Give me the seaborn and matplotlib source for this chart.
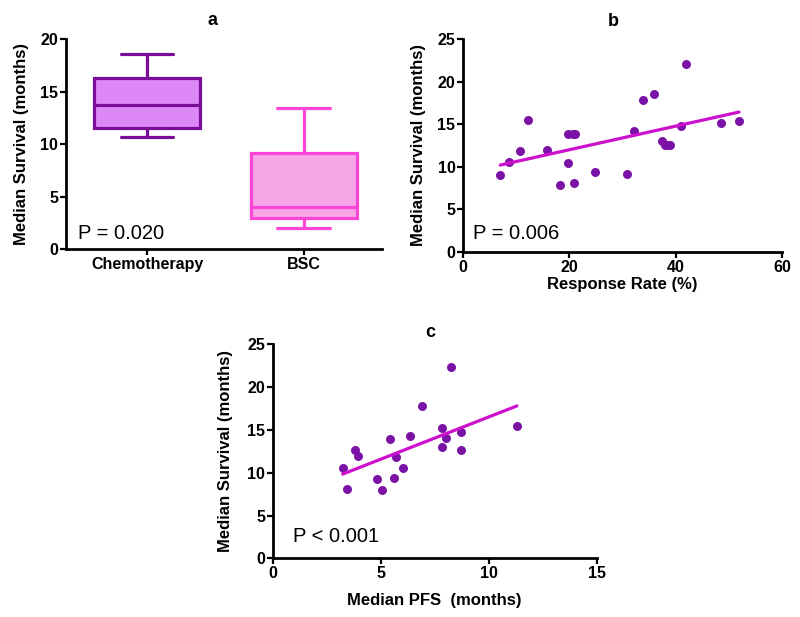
import matplotlib
matplotlib.use("Agg")
import matplotlib.pyplot as plt
import seaborn as sns
import pandas as pd
import numpy as np

# ---- Data ----
# Panel a: five-number summaries (min, Q1, median, Q3, max) read from the boxes
groups = ["Chemotherapy", "BSC"]
chemo_vals = [10.7, 11.5, 13.7, 16.3, 18.6]
bsc_vals = [2.0, 3.0, 4.0, 9.1, 13.4]

# Panel b: response rate (%) vs median survival (months)
rr_x = [7.0, 8.7, 10.8, 12.2, 15.7, 18.2, 19.8, 19.8, 20.6, 21.0, 20.8, 24.8,
        30.8, 32.1, 33.9, 35.9, 37.4, 37.9, 38.4, 39.0, 40.9, 41.9, 48.5, 51.9]
rr_y = [9.0, 10.6, 11.8, 15.5, 12.0, 7.9, 13.8, 10.4, 13.9, 13.9, 8.1, 9.35,
        9.2, 14.2, 17.8, 18.5, 13.0, 12.6, 12.6, 12.6, 14.75, 22.1, 15.1, 15.4]

# Panel c: median PFS (months) vs median survival (months)
pfs_x = [3.24, 3.44, 3.82, 3.93, 4.83, 5.05, 5.43, 5.63, 5.72, 6.03, 6.34,
         6.93, 7.82, 7.82, 8.04, 8.24, 8.72, 8.72, 11.31]
pfs_y = [10.5, 8.1, 12.6, 12.0, 9.3, 8.0, 13.9, 9.4, 11.8, 10.6, 14.25,
         17.8, 15.2, 13.0, 14.0, 22.3, 14.8, 12.7, 15.5]

p_texts = ["P = 0.020", "P = 0.006", "P < 0.001"]
titles = ["a", "b", "c"]

# ---- Style ----
sns.set_theme(style="white")
plt.rcParams["font.family"] = ["Liberation Sans", "DejaVu Sans"]
plt.rcParams["text.color"] = "black"
plt.rcParams["axes.labelcolor"] = "black"
plt.rcParams["xtick.color"] = "black"
plt.rcParams["ytick.color"] = "black"

DOT = "#7B12A6"
LINE = "#CC10CC"
CHEMO_EDGE = "#7A0D97"
CHEMO_FILL = "#DC88F6"
BSC_EDGE = "#FF45D8"
BSC_FILL = "#F6A6E6"

fig = plt.figure(figsize=(8.0, 6.17), dpi=100)
ax_a = fig.add_axes([0.0825, 0.5964, 0.395, 0.3404])
ax_b = fig.add_axes([0.5788, 0.5916, 0.3988, 0.3452])
ax_c = fig.add_axes([0.3409, 0.0951, 0.405, 0.3468])


def style_axes(ax):
    for s in ["top", "right"]:
        ax.spines[s].set_visible(False)
    for s in ["left", "bottom"]:
        ax.spines[s].set_linewidth(2.0)
        ax.spines[s].set_color("black")
    ax.tick_params(axis="both", direction="out", length=4, width=1.6,
                   color="black", labelcolor="black", labelsize=11.5, pad=1.5,
                   left=True, bottom=True)
    for lab in ax.get_xticklabels() + ax.get_yticklabels():
        lab.set_fontweight("bold")
        lab.set_color("black")


# ---- Panel a ----
df_a = pd.DataFrame({
    "group": [groups[0]] * len(chemo_vals) + [groups[1]] * len(bsc_vals),
    "value": chemo_vals + bsc_vals,
})
sns.boxplot(data=df_a, x="group", y="value", order=groups, ax=ax_a,
            whis=(0, 100), width=0.675, showfliers=False, linewidth=2.3,
            hue="group", palette=[CHEMO_FILL, BSC_FILL], legend=False, saturation=1)
edges = [CHEMO_EDGE, BSC_EDGE]
for i, patch in enumerate(ax_a.patches):
    patch.set_edgecolor(edges[i % 2])
    patch.set_facecolor([CHEMO_FILL, BSC_FILL][i % 2])
lines = ax_a.lines
n_per = len(lines) // 2
for i, ln in enumerate(lines):
    ln.set_color(edges[i // n_per])
    ln.set_linewidth(2.3)
ax_a.set_xlim(-0.516, 1.497)
ax_a.set_ylim(0, 20)
ax_a.set_yticks([0, 5, 10, 15, 20])
ax_a.set_xlabel("")
style_axes(ax_a)

# ---- Panel b ----
sns.regplot(x=rr_x, y=rr_y, ax=ax_b, ci=None, truncate=True,
            scatter_kws=dict(s=42, color=DOT, edgecolor=DOT, linewidths=0, alpha=1),
            line_kws=dict(color=LINE, linewidth=2.3))
ax_b.set_xlim(0, 60)
ax_b.set_ylim(0, 25)
ax_b.set_xticks([0, 20, 40, 60])
ax_b.set_yticks([0, 5, 10, 15, 20, 25])
ax_b.set_xlabel("Response Rate (%)", fontsize=12, fontweight="bold", labelpad=2)
style_axes(ax_b)

# ---- Panel c ----
sns.regplot(x=pfs_x, y=pfs_y, ax=ax_c, ci=None, truncate=True,
            scatter_kws=dict(s=42, color=DOT, edgecolor=DOT, linewidths=0, alpha=1),
            line_kws=dict(color=LINE, linewidth=2.3))
ax_c.set_xlim(0, 15)
ax_c.set_ylim(0, 25)
ax_c.set_xticks([0, 5, 10, 15])
ax_c.set_yticks([0, 5, 10, 15, 20, 25])
ax_c.set_xlabel("Median PFS  (months)", fontsize=12, fontweight="bold", labelpad=9)
style_axes(ax_c)

# ---- Common labels / annotations ----
ylab_x = [-0.117, -0.116, -0.123]
title_pos = [(0.465, 1.067), (0.47, 1.062), (0.485, 1.033)]
p_pos = [(0.038, 0.048), (0.030, 0.061), (0.062, 0.075)]
for ax, t, tp, p, pp, yx in zip([ax_a, ax_b, ax_c], titles, title_pos,
                                 p_texts, p_pos, ylab_x):
    ax.set_ylabel("Median Survival (months)", fontsize=12, fontweight="bold",
                  color="black")
    ax.yaxis.set_label_coords(yx, 0.5)
    ax.text(tp[0], tp[1], t, transform=ax.transAxes, ha="center", va="baseline",
            fontsize=13, fontweight="bold", color="black")
    ax.text(pp[0], pp[1], p, transform=ax.transAxes, ha="left", va="baseline",
            fontsize=14.5, color="black")

fig.savefig("out.png", dpi=100)
